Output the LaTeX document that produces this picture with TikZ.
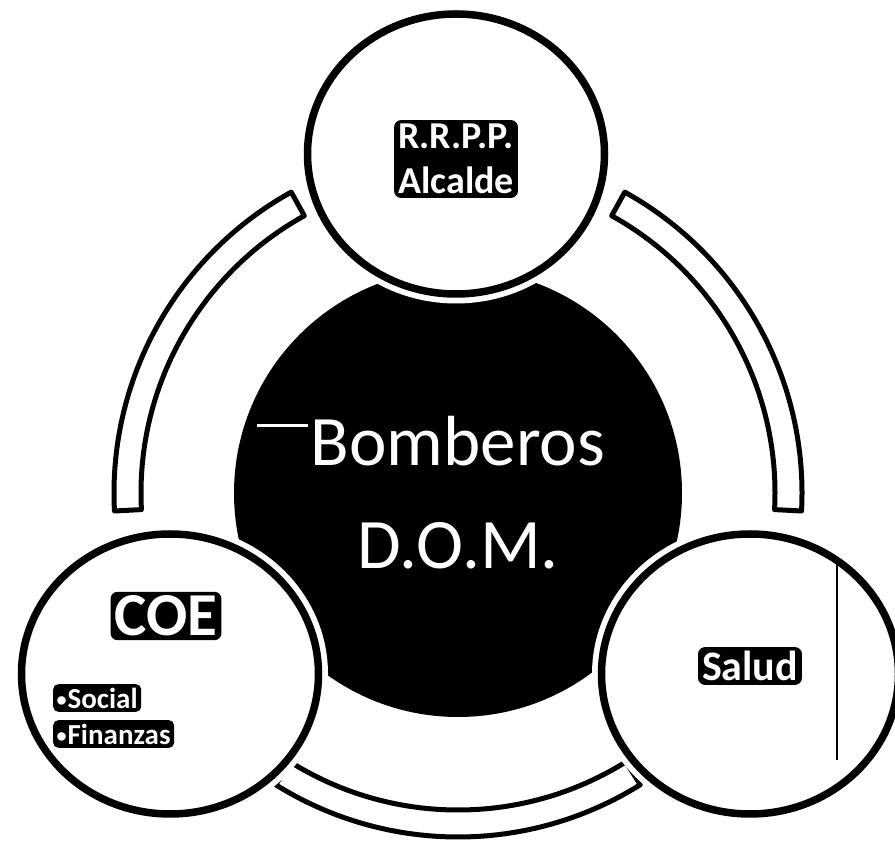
\documentclass[tikz,border=0pt]{standalone}
\usepackage{fontspec}
\setmainfont{Carlito}
\usetikzlibrary{shapes.geometric}
\newcommand{\smbul}{{\fontsize{20}{20}\selectfont\raisebox{1.5pt}{•}}\kern1pt}
\begin{document}
\begin{tikzpicture}[x=1pt,y=1pt,
  ringseg/.style={fill=white, draw=black, line width=5pt, line join=round},
  hub/.style={circle, fill=black, minimum size=448pt, inner sep=0pt},
  sat/.style={ellipse, fill=white, draw=black, line width=7.5pt, minimum width=297pt, minimum height=280pt, inner sep=0pt, preaction={draw=white, line width=19pt}},
  tag/.style={fill=black, text=white, rounded corners=7pt, inner sep=4pt, align=center},
]
\useasboundingbox (0,0) rectangle (895,844);
\coordinate (c) at (458,351);
% outer ring segments
\foreach \a/\b in {119/183, -3/61, 238/302}{
  \draw[ringseg] ([shift={(\a:344)}]c) arc[start angle=\a, end angle=\b, radius=344]
     -- ([shift={(\b:317)}]c) arc[start angle=\b, end angle=\a, radius=317] -- cycle;
}
% hub
\node[hub] (hub) at (c) {};
\node[text=white, font=\fontsize{71}{103}\selectfont, align=center] (hubtext) at (458,351) {Bomberos\\D.O.M.};
\draw[white, line width=3pt] (257,418) -- (308,418);
% satellites
\node[sat] (top) at (456,690) {};
\node[sat] (left) at (170,170) {};
\node[sat] (right) at (750,170) {};
% labels
\node[tag, font=\fontsize{38}{45}\selectfont\bfseries] (toptext) at (456,685) {R.R.P.P.\\Alcalde};
\node[tag, font=\fontsize{61}{70}\selectfont\bfseries] (coe) at (166,228) {COE};
\node[tag, anchor=west, font=\fontsize{29}{32}\selectfont\bfseries, rounded corners=5pt, inner sep=3.5pt] (social) at (53,146) {\smbul Social};
\node[tag, anchor=west, font=\fontsize{29}{32}\selectfont\bfseries, rounded corners=5pt, inner sep=3.5pt] (finanzas) at (53,110) {\smbul Finanzas};
\node[tag, font=\fontsize{42}{48}\selectfont\bfseries] (salud) at (750,178) {Salud};
\draw[black, line width=2.5pt] (837,287) -- (837,84);
\end{tikzpicture}
\end{document}
